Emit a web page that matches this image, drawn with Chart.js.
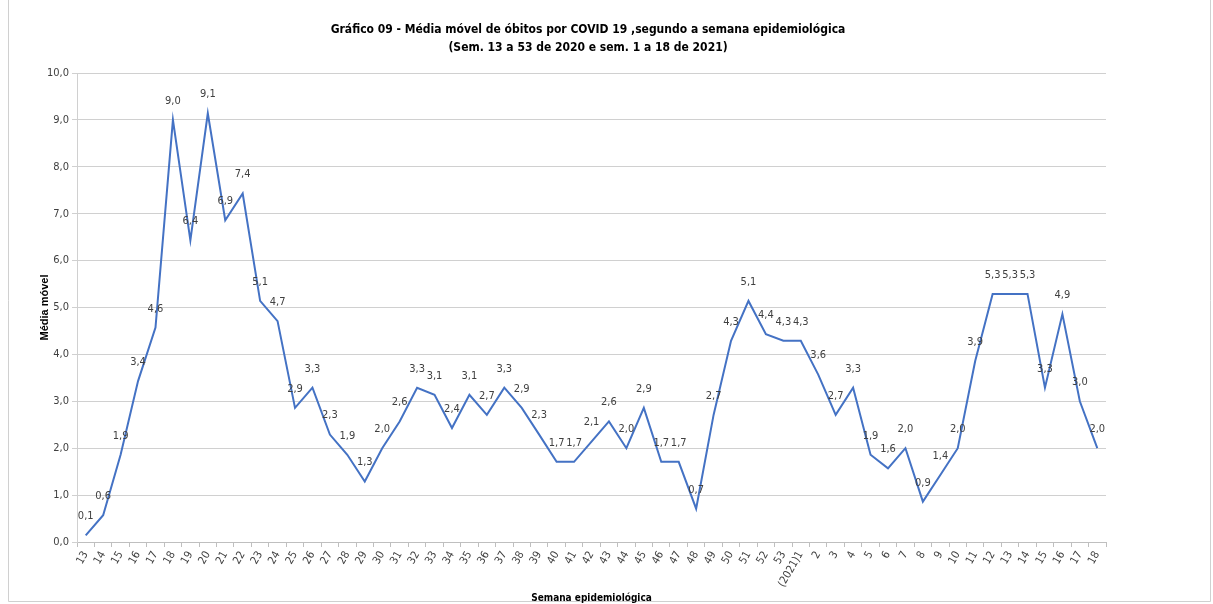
<!DOCTYPE html>
<html>
<head>
<meta charset="utf-8">
<script src="https://cdn.jsdelivr.net/npm/chart.js@4"></script>
<style>
  html, body { margin: 0; padding: 0; background: #fff; }
  #wrap { width: 1213px; height: 604px; position: relative; }
</style>
</head>
<body>
<div id="wrap"><canvas id="media"></canvas></div>
<script>
const weeks = ["13","14","15","16","17","18","19","20","21","22","23","24","25","26","27","28","29","30",
  "31","32","33","34","35","36","37","38","39","40","41","42","43","44","45","46","47","48","49","50",
  "51","52","53","(2021)1","2","3","4","5","6","7","8","9","10","11","12","13","14","15","16","17","18"];
const mediaMovel = [0.14, 0.57, 1.86, 3.43, 4.57, 9.0, 6.43, 9.14, 6.86, 7.43, 5.14, 4.71, 2.86, 3.29, 2.29,
  1.86, 1.29, 2.0, 2.57, 3.29, 3.14, 2.43, 3.14, 2.71, 3.29, 2.86, 2.29, 1.71, 1.71, 2.14, 2.57, 2.0,
  2.86, 1.71, 1.71, 0.71, 2.71, 4.29, 5.14, 4.43, 4.29, 4.29, 3.57, 2.71, 3.29, 1.86, 1.57, 2.0, 0.86,
  1.43, 2.0, 3.86, 5.29, 5.29, 5.29, 3.29, 4.86, 3.0, 2.0];
const titleLines = [
  "Gráfico 09 - Média móvel de óbitos por COVID 19 ,segundo a semana epidemiológica",
  "(Sem. 13 a 53 de 2020 e sem. 1 a 18 de 2021)"
];

const narrow = "'DejaVu Sans Condensed', 'Liberation Sans Narrow', sans-serif";
const fmt = v => v.toFixed(1).replace(".", ",");

// value labels above each point
const pointLabels = {
  id: "pointLabels",
  afterDatasetsDraw(chart) {
    const ctx = chart.ctx;
    const meta = chart.getDatasetMeta(0);
    ctx.save();
    ctx.font = "11px " + narrow;
    ctx.fillStyle = "#404040";
    ctx.textAlign = "center";
    ctx.textBaseline = "middle";
    meta.data.forEach((pt, i) => {
      ctx.fillText(fmt(chart.data.datasets[0].data[i]), pt.x, pt.y - 19);
    });
    ctx.restore();
  }
};

// frame + two-line heading (centred on the page, not on the plot)
const frame = {
  id: "frame",
  beforeDraw(chart) {
    const ctx = chart.ctx;
    ctx.save();
    ctx.strokeStyle = "#d0d0d0";
    ctx.lineWidth = 1;
    ctx.beginPath();
    ctx.moveTo(8.5, 0);
    ctx.lineTo(8.5, 601.5);
    ctx.lineTo(1210.5, 601.5);
    ctx.lineTo(1210.5, 0);
    ctx.stroke();
    ctx.fillStyle = "#000";
    ctx.font = "bold 12px " + narrow;
    ctx.textAlign = "center";
    ctx.textBaseline = "middle";
    titleLines.forEach((t, i) => ctx.fillText(t, 588, 30 + i * 18));
    ctx.restore();
  }
};

new Chart(document.getElementById("media").getContext("2d"), {
  type: "line",
  data: {
    labels: weeks,
    datasets: [{
      label: "Média móvel",
      data: mediaMovel,
      borderColor: "#4472C4",
      borderWidth: 2,
      pointRadius: 0,
      tension: 0,
      fill: false
    }]
  },
  options: {
    responsive: true,
    maintainAspectRatio: false,
    animation: false,
    layout: { padding: { left: 36, right: 107, top: 73, bottom: 0 } },
    plugins: {
      legend: { display: false },
      tooltip: { enabled: false },
      title: { display: false }
    },
    scales: {
      x: {
        offset: true,
        grid: { drawOnChartArea: false, drawTicks: true, tickLength: 5, offset: true, color: "#bfbfbf" },
        border: { color: "#bfbfbf" },
        ticks: {
          autoSkip: false,
          maxRotation: 60,
          minRotation: 60,
          color: "#404040",
          font: { family: narrow, size: 11 },
          padding: 2
        },
        title: {
          display: true,
          text: "Semana epidemiológica",
          color: "#000",
          font: { family: narrow, size: 10, weight: "bold" },
          padding: { top: 0, bottom: 0 }
        },
        afterFit(s) { s.height = 62; }
      },
      y: {
        min: 0,
        max: 10,
        ticks: {
          stepSize: 1,
          color: "#404040",
          font: { family: narrow, size: 11 },
          callback: v => fmt(v),
          padding: 3
        },
        grid: { color: "#d0d0d0", drawTicks: true, tickLength: 5 },
        border: { display: true, color: "#d0d0d0" },
        title: {
          display: true,
          text: "Média móvel",
          color: "#000",
          font: { family: "'Liberation Sans', Arial, sans-serif", size: 11, weight: "bold" },
          padding: { top: 2, bottom: 0 }
        },
        afterFit(s) { s.width = 41; }
      }
    }
  },
  plugins: [pointLabels, frame]
});
</script>
</body>
</html>
